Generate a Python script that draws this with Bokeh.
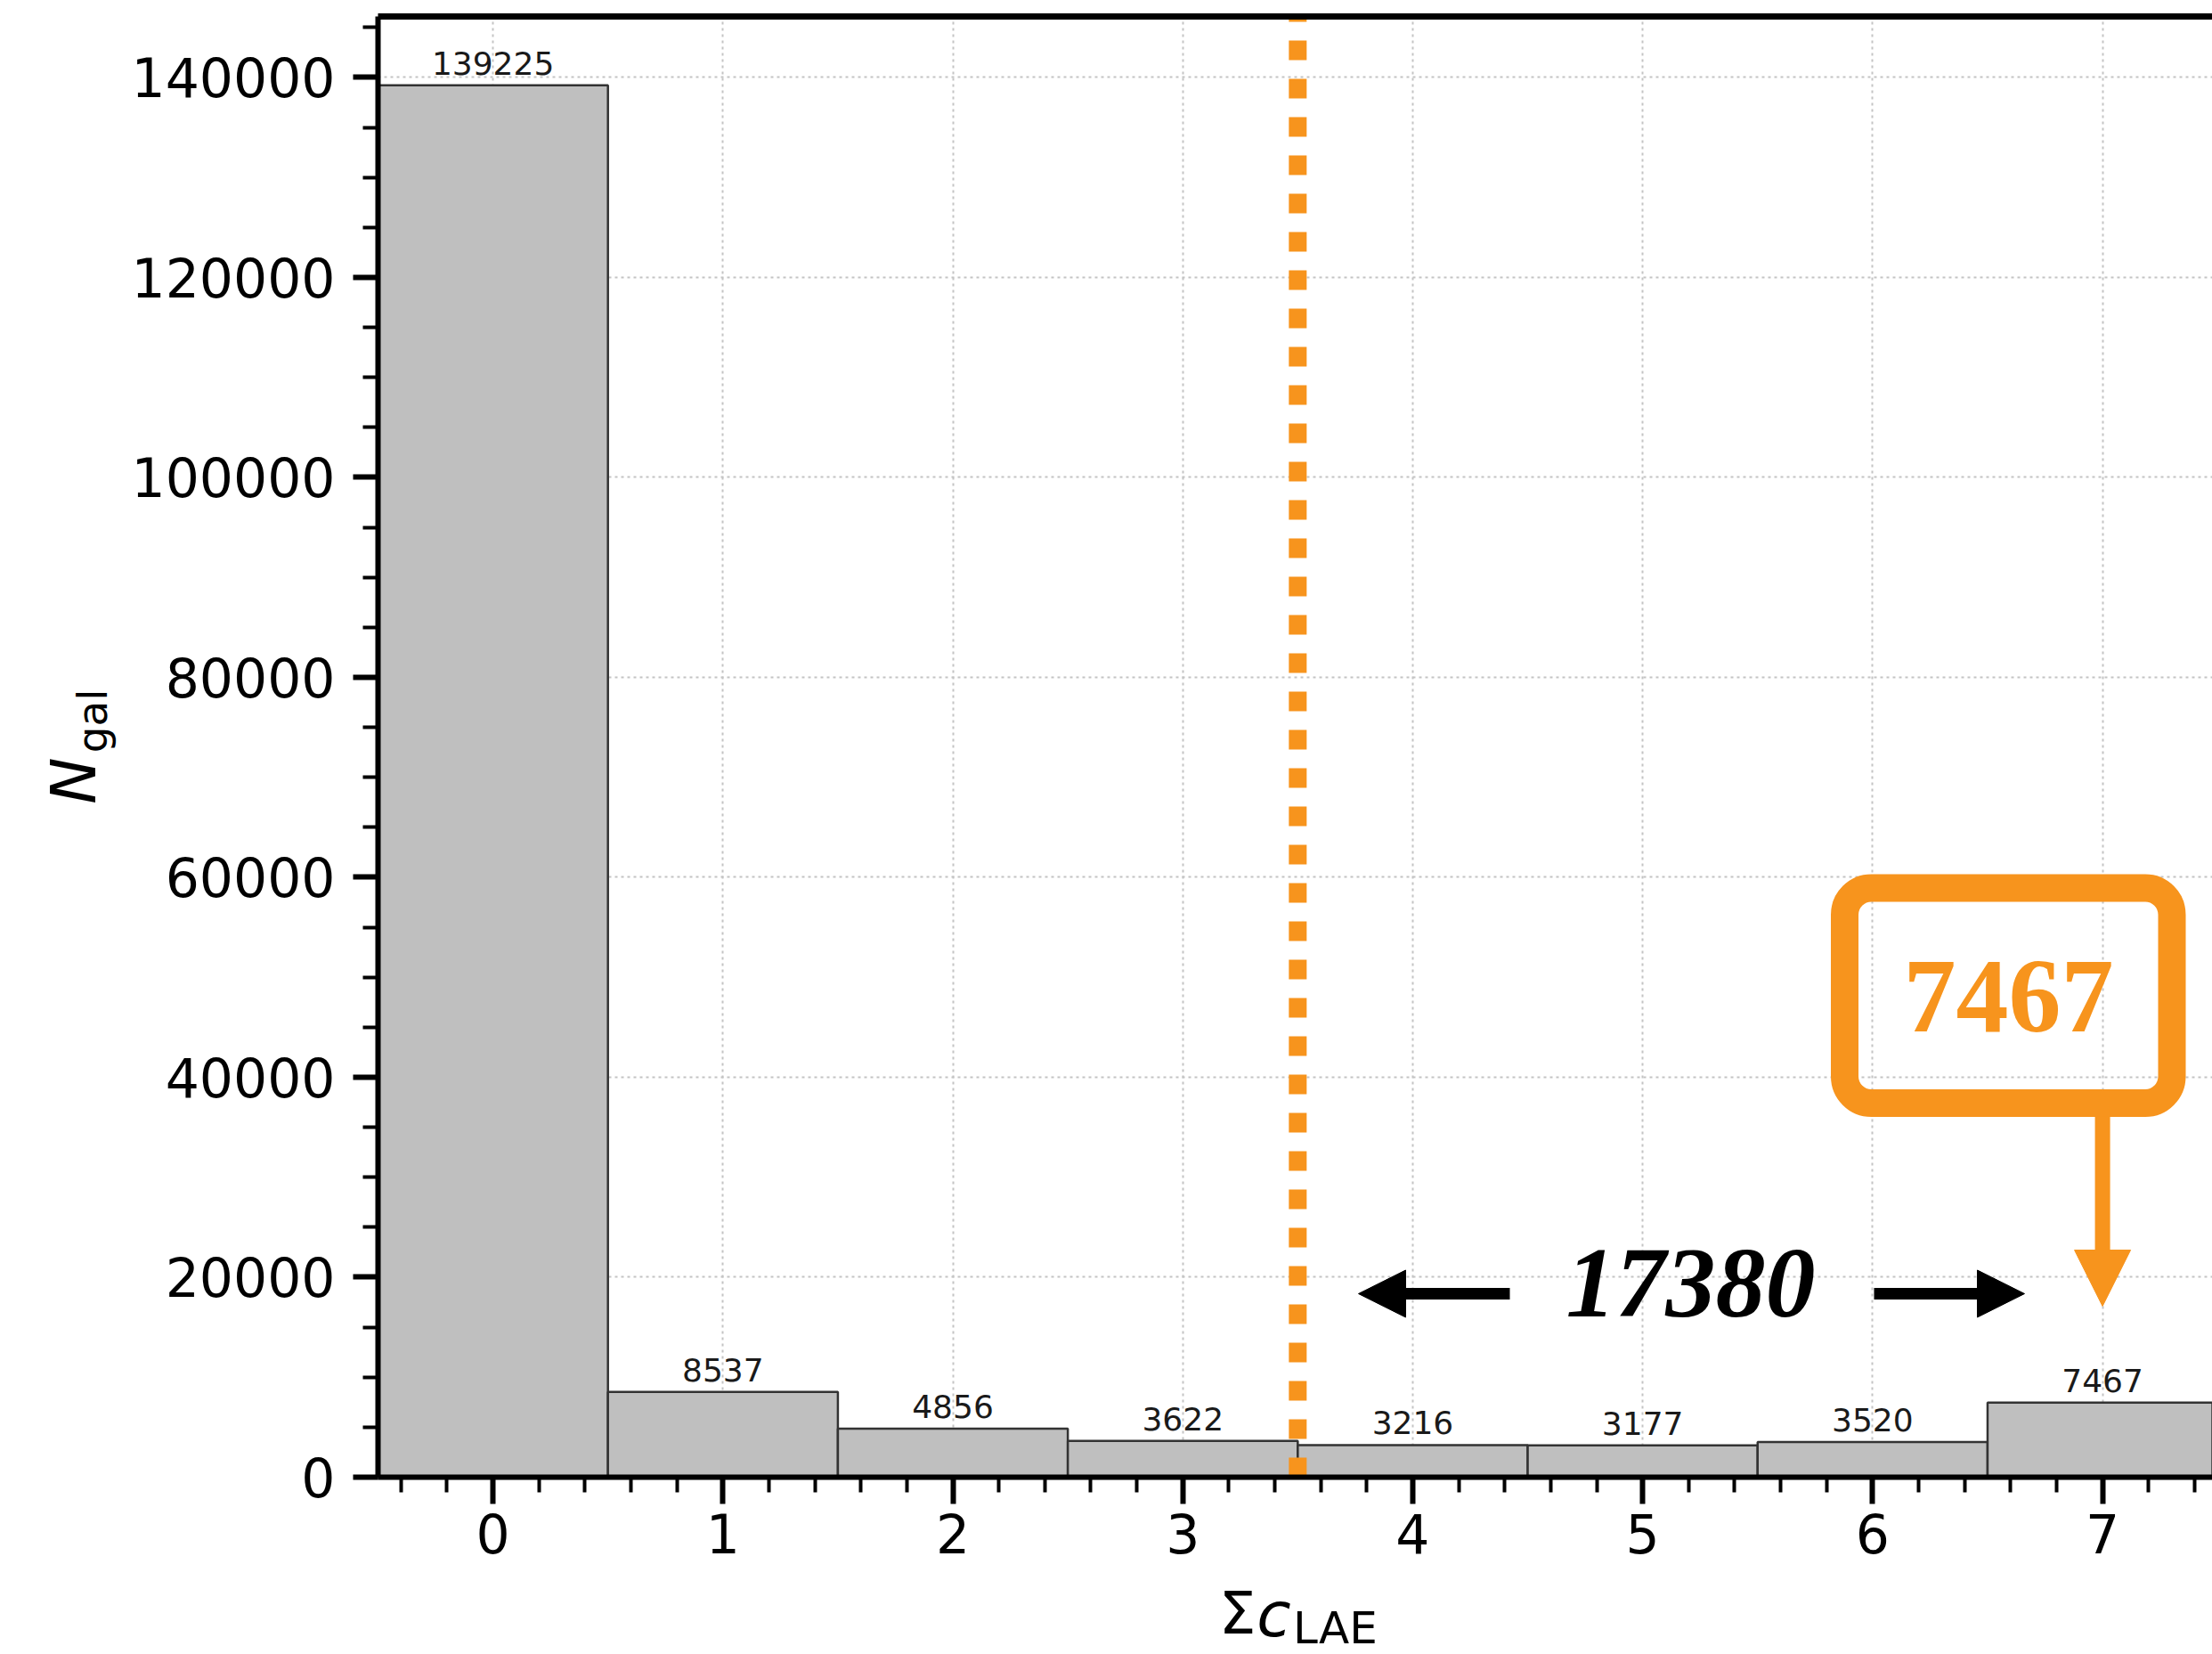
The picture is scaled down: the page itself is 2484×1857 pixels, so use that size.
import math
from bokeh.plotting import figure
from bokeh.layouts import row, column
from bokeh.models import (Range1d, FixedTicker, LinearAxis, Label, Arrow, NormalHead,
                          BoxAnnotation, ColumnDataSource, BasicTickFormatter)
from bokeh.embed import file_html
from bokeh.resources import INLINE
from bokeh.core.properties import value

# ---------------- data ----------------
sum_c = [0, 1, 2, 3, 4, 5, 6, 7]
n_gal = [139225, 8537, 4856, 3622, 3216, 3177, 3520, 7467]
x_ticks = [0, 1, 2, 3, 4, 5, 6, 7]
y_ticks = [0, 20000, 40000, 60000, 80000, 100000, 120000, 140000]
cut_value = 3.5
highlight_bin = 7
highlight_count = n_gal[sum_c.index(highlight_bin)]
total_above_cut = sum(v for c, v in zip(sum_c, n_gal) if c > cut_value)

# ---------------- geometry ----------------
W, H = 2484, 1857
STRIP_W = 140          # left strip holding the y title
STRIP_H = 89           # bottom strip holding the x title
MW, MH = W - STRIP_W, H - STRIP_H
L, R, T, B = 424 - STRIP_W, 0, 18, MH - 1658
X0, X1 = -0.5, 7.478
Y0, Y1 = 0, 146100
FW = MW - L - R
FH = MH - T - B


def dx(px):  # full-canvas pixel -> data x
    return X0 + (px - STRIP_W - L) / FW * (X1 - X0)


def dy(py):  # full-canvas pixel -> data y
    return Y0 + (MH - B - py) / FH * (Y1 - Y0)


ORANGE = "#f7941d"
FONT = "DejaVu Sans"

p = figure(width=MW, height=MH, x_range=Range1d(X0, X1), y_range=Range1d(Y0, Y1),
           output_backend="svg", toolbar_location=None,
           min_border_left=L, min_border_right=R, min_border_top=T, min_border_bottom=B)
p.outline_line_color = None
p.background_fill_color = "white"
p.border_fill_color = "white"

xa = p.xaxis[0]
ya = p.yaxis[0]
xa.ticker = FixedTicker(ticks=x_ticks, minor_ticks=[round(-0.4 + 0.2 * i, 1) for i in range(40)])
ya.ticker = FixedTicker(ticks=y_ticks, minor_ticks=[5000 * i for i in range(30)])
ya.formatter = BasicTickFormatter(use_scientific=False)

for ax in (xa, ya):
    ax.axis_line_width = 6
    ax.axis_line_color = "black"
    ax.major_tick_line_width = 6
    ax.minor_tick_line_width = 4
    ax.major_tick_line_color = "black"
    ax.minor_tick_line_color = "black"
    ax.major_tick_in = 0
    ax.minor_tick_in = 0
    ax.major_label_text_font = FONT
    ax.major_label_text_font_size = "60px"
    ax.major_label_text_color = "black"
    ax.axis_label = None

xa.major_tick_out = 30
xa.minor_tick_out = 17
xa.major_label_standoff = 10
ya.major_tick_out = 28
ya.minor_tick_out = 17
ya.major_label_standoff = 20

top_axis = LinearAxis(ticker=FixedTicker(ticks=[]), major_label_text_font_size="0px",
                      axis_line_width=7, axis_line_color="black",
                      major_tick_out=0, minor_tick_out=0, major_tick_in=0, minor_tick_in=0,
                      major_label_standoff=0)
p.add_layout(top_axis, "above")

p.grid.grid_line_color = "#c4c4c4"
p.grid.grid_line_dash = "3 4"
p.grid.grid_line_width = 2

src = ColumnDataSource(dict(x=sum_c, top=n_gal, label=[str(v) for v in n_gal]))
p.vbar(x="x", top="top", bottom=0, width=1.0, source=src,
       fill_color="#bfbfbf", line_color="#333333", line_width=2.5)
p.text(x="x", y="top", text="label", source=src, text_align="center",
       text_baseline="alphabetic", y_offset=-25, text_font=value(FONT),
       text_font_size="36px", text_color="#1a1a1a")

# cut line
p.segment(x0=[cut_value], y0=[Y0], x1=[cut_value], y1=[Y1], line_color=ORANGE,
          line_width=20, line_dash="22 21")

# highlighted box
box = BoxAnnotation(left=dx(2071), right=dx(2438.5), top=dy(996.5), bottom=dy(1238),
                    fill_alpha=0, line_alpha=1.0, line_color=ORANGE, line_width=31,
                    border_radius=30)
p.add_layout(box)
p.add_layout(Label(x=dx(2255), y=dy(1118), text=str(highlight_count), text_align="center",
                   text_baseline="middle", text_font="Liberation Serif", text_font_style="bold",
                   text_font_size="118px", text_color=ORANGE))
p.add_layout(Arrow(end=NormalHead(size=63, fill_color=ORANGE, line_color=ORANGE, line_width=1),
                   x_start=highlight_bin, y_start=dy(1253), x_end=highlight_bin, y_end=dy(1466),
                   line_color=ORANGE, line_width=17))

# range arrows + total
p.add_layout(Arrow(end=NormalHead(size=53, fill_color="black", line_color="black", line_width=1),
                   x_start=dx(1695), y_start=dy(1452), x_end=dx(1525), y_end=dy(1452),
                   line_color="black", line_width=13))
p.add_layout(Arrow(end=NormalHead(size=53, fill_color="black", line_color="black", line_width=1),
                   x_start=dx(2104), y_start=dy(1452), x_end=dx(2273), y_end=dy(1452),
                   line_color="black", line_width=13))
p.add_layout(Label(x=dx(1898), y=dy(1440), text=str(total_above_cut), text_align="center",
                   text_baseline="middle", text_font="Liberation Serif",
                   text_font_style="bold italic", text_font_size="112px", text_color="black"))


# ---------------- title strips ----------------
def strip(w, h, xr, border_left=0):
    s = figure(width=w, height=h, x_range=xr, y_range=Range1d(h, 0),
               output_backend="svg", toolbar_location=None,
               x_axis_location=None, y_axis_location=None,
               min_border_left=border_left, min_border_right=0,
               min_border_top=0, min_border_bottom=0)
    s.outline_line_color = None
    s.background_fill_color = "white"
    s.border_fill_color = "white"
    s.xgrid.visible = False
    s.ygrid.visible = False
    return s


# y title: strip coordinates are canvas pixels
left_strip = strip(STRIP_W, H, Range1d(0, STRIP_W))
left_strip.add_layout(Label(x=82, y=876, text="N", angle=math.pi / 2, text_align="center",
                            text_baseline="middle", text_font=FONT, text_font_style="italic",
                            text_font_size="70px", text_color="black"))
left_strip.add_layout(Label(x=103, y=809, text="gal", angle=math.pi / 2, text_align="center",
                            text_baseline="middle", text_font=FONT,
                            text_font_size="47px", text_color="black"))

# x title: frame aligned with the main frame, x in data units, y in strip pixels
bottom_strip = strip(MW, STRIP_H, Range1d(X0, X1), border_left=L)
by0 = MH
bottom_strip.add_layout(Label(x=dx(1389), y=1811 - by0, text="Σ", text_align="center",
                              text_baseline="middle", text_font=FONT,
                              text_font_size="66px", text_color="black"))
bottom_strip.add_layout(Label(x=dx(1430), y=1812 - by0, text="c", text_align="center",
                              text_baseline="middle", text_font=FONT, text_font_style="italic",
                              text_font_size="70px", text_color="black"))
bottom_strip.add_layout(Label(x=dx(1499), y=1827 - by0, text="LAE", text_align="center",
                              text_baseline="middle", text_font=FONT,
                              text_font_size="50px", text_color="black"))

layout = row(left_strip, column(p, bottom_strip, spacing=0), spacing=0)
open("out.html", "w").write(file_html(layout, INLINE))
